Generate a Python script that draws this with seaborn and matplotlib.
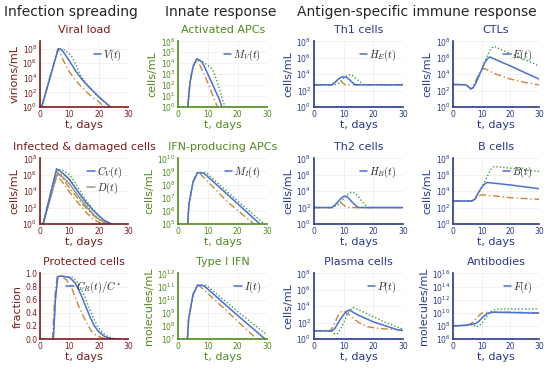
import numpy as np
import matplotlib
matplotlib.use('Agg')
import matplotlib.pyplot as plt
import seaborn as sns
from matplotlib.lines import Line2D
from matplotlib.ticker import FixedLocator, NullLocator, LogFormatterSciNotation

# ------------------------------------------------------------------
# values (log10 of the quantity unless noted)
# blue = solid, green = dotted, orange = dash-dot
# ------------------------------------------------------------------
# viral load V(t)
vl_t_b = [0.5, 6.2, 7, 8, 10, 12, 14, 16, 18, 20, 22, 24]
vl_b = [0, 8.0, 7.9, 7.5, 6.3, 5.0, 3.9, 3.0, 2.2, 1.4, 0.7, 0]
vl_t_g = [0.5, 6.2, 8, 10, 11, 12, 13, 14, 16, 18, 20, 22, 23.5]
vl_g = [0, 8.0, 7.9, 7.3, 6.8, 6.0, 5.0, 4.2, 3.1, 2.2, 1.3, 0.6, 0]
vl_t_o = [0.5, 6.0, 7, 8, 10, 12, 14, 16, 18, 20, 22]
vl_o = [0, 7.9, 7.3, 6.3, 4.8, 3.7, 2.8, 2.0, 1.3, 0.7, 0]

# infected cells C_V(t) and damaged cells D(t)
cv_t_b = [1, 5.6, 7, 8, 10, 12, 14, 16, 18, 20, 22, 24.5]
cv_b = [0, 6.7, 6.4, 6.1, 5.4, 4.4, 3.4, 2.5, 1.7, 1.0, 0.4, 0]
cv_t_g = [1, 5.6, 8, 10, 12, 14, 16, 18, 20, 22, 24]
cv_g = [0, 6.7, 6.5, 6.0, 5.0, 3.8, 2.7, 1.8, 1.0, 0.4, 0]
cv_t_o = [1, 5.5, 8, 10, 12, 14, 16, 18, 20, 22]
cv_o = [0, 6.5, 5.4, 4.4, 3.5, 2.6, 1.8, 1.1, 0.5, 0]
dd_t_b = [1, 5.8, 7, 8, 10, 12, 14, 16, 18, 20, 22, 24]
dd_b = [0, 6.1, 5.9, 5.6, 4.9, 3.9, 2.9, 2.0, 1.2, 0.6, 0.2, 0]
dd_t_g = [1, 5.8, 8, 10, 12, 14, 16, 18, 20, 22, 23.5]
dd_g = [0, 6.1, 6.0, 5.5, 4.5, 3.3, 2.2, 1.3, 0.6, 0.2, 0]
dd_t_o = [1, 5.7, 8, 10, 12, 14, 16, 18, 20, 21.5]
dd_o = [0, 6.0, 4.9, 3.9, 3.0, 2.1, 1.3, 0.6, 0.2, 0]

# protected cells C_R(t)/C* (linear fraction)
pr_t_b = [4.5, 5.2, 6, 7, 10, 12, 14, 15.5, 17, 18.5, 20, 22, 24, 27]
pr_b = [0, 0.6, 0.95, 0.96, 0.94, 0.85, 0.67, 0.5, 0.34, 0.2, 0.11, 0.04, 0.01, 0]
pr_t_g = [4.5, 5.2, 6, 7, 11, 13, 15, 16.5, 18, 19.5, 21, 23, 25, 28]
pr_g = [0, 0.6, 0.95, 0.96, 0.94, 0.85, 0.67, 0.5, 0.34, 0.2, 0.11, 0.04, 0.01, 0]
pr_t_o = [4.2, 4.9, 5.8, 7, 9, 11, 13, 14.5, 16, 17.5, 19, 21, 24]
pr_o = [0, 0.6, 0.95, 0.96, 0.9, 0.75, 0.52, 0.37, 0.23, 0.12, 0.06, 0.02, 0]

# activated APCs M_V(t)
mv_t_b = [3.2, 4, 5, 6.3, 7, 8, 9, 10, 11, 12, 13, 14, 14.7]
mv_b = [0, 2.3, 3.7, 4.4, 4.3, 4.1, 3.6, 3.0, 2.4, 1.8, 1.2, 0.6, 0]
mv_t_g = [3.2, 4, 5, 6.3, 8, 9, 10, 11, 12, 13, 14, 15, 15.8]
mv_g = [0, 2.3, 3.7, 4.4, 4.2, 4.0, 3.8, 3.6, 3.2, 2.4, 1.5, 0.6, 0]
mv_t_o = [3.2, 4, 5, 6.2, 7, 8, 9, 10, 11, 12, 13.2]
mv_o = [0, 2.3, 3.7, 4.4, 4.0, 3.4, 2.8, 2.2, 1.5, 0.8, 0]

# IFN-producing APCs M_I(t)
mi_t_b = [3.2, 3.6, 5, 6.5, 8, 9, 19, 27.5]
mi_b = [5, 6.5, 8.2, 8.9, 8.9, 8.8, 6.75, 5]
mi_t_g = [3.2, 3.6, 5, 6.5, 9, 10, 20, 29]
mi_g = [5, 6.5, 8.2, 8.9, 8.9, 8.8, 6.75, 5]
mi_t_o = [3.2, 3.6, 5, 6.3, 7.5, 17, 25.5]
mi_o = [5, 6.5, 8.2, 8.9, 8.8, 6.6, 5]

# type I IFN I(t)
if_t_b = [3.1, 3.5, 5, 6.5, 8, 9, 19, 29.3]
if_b = [7, 8.5, 10.4, 11.1, 11.1, 11.0, 9.0, 7]
if_t_g = [3.1, 3.5, 5, 6.5, 9, 10, 20, 30]
if_g = [7, 8.5, 10.4, 11.1, 11.1, 11.0, 9.1, 7.3]
if_t_o = [3.1, 3.5, 5, 6.3, 7.5, 17, 26.5]
if_o = [7, 8.5, 10.4, 11.1, 11.0, 9.0, 7]

# Th1 cells H_E(t)
he_t_b = [0, 6, 7, 8, 9, 10, 11, 12, 13, 14, 30]
he_b = [2.7, 2.7, 3.0, 3.35, 3.6, 3.7, 3.6, 3.3, 2.95, 2.7, 2.7]
he_t_g = [0, 6, 8, 9, 10, 11, 12, 13, 14, 15, 16, 17, 30]
he_g = [2.7, 2.7, 2.8, 3.1, 3.5, 3.8, 3.95, 3.8, 3.5, 3.2, 2.9, 2.7, 2.7]
he_t_o = [0, 6, 7, 8, 8.7, 9.5, 10.5, 30]
he_o = [2.7, 2.7, 3.0, 3.2, 3.25, 3.0, 2.7, 2.7]

# CTLs E(t)
e_t_b = [0, 4.5, 5.5, 6.2, 7, 8, 9, 10, 11, 12, 12.8, 14, 20, 25, 30]
e_b = [2.75, 2.7, 2.4, 2.2, 2.35, 3.0, 3.8, 4.6, 5.4, 5.9, 6.1, 5.9, 5.0, 4.2, 3.4]
e_t_g = [0, 4.5, 5.5, 6.2, 7, 8, 9, 10, 11, 12, 13, 14.2, 20, 25, 30]
e_g = [2.75, 2.7, 2.4, 2.2, 2.35, 3.0, 3.8, 4.6, 5.5, 6.3, 7.0, 7.4, 6.5, 5.8, 5.0]
e_t_o = [0, 4.5, 5.5, 6.2, 7, 8, 9, 10, 10.8, 12, 15, 20, 25, 30]
e_o = [2.75, 2.7, 2.4, 2.2, 2.5, 3.3, 4.0, 4.5, 4.7, 4.5, 4.0, 3.4, 3.0, 2.7]

# Th2 cells H_B(t)
hb_t_b = [0, 6, 7, 8, 9, 10, 10.5, 11, 12, 13, 14, 15, 30]
hb_b = [2.0, 2.0, 2.3, 2.7, 3.1, 3.35, 3.4, 3.35, 3.0, 2.6, 2.25, 2.0, 2.0]
hb_t_g = [0, 6, 8, 9, 10, 11, 12, 13, 14, 15, 16, 17, 18, 30]
hb_g = [2.0, 2.0, 2.3, 2.7, 3.1, 3.5, 3.8, 3.9, 3.7, 3.3, 2.8, 2.4, 2.0, 2.0]
hb_t_o = [0, 6, 7, 8, 8.8, 9.5, 10.5, 11.2, 30]
hb_o = [2.0, 2.0, 2.3, 2.55, 2.65, 2.45, 2.15, 2.0, 2.0]

# B cells B(t)
b_t_b = [0, 6.5, 7.5, 8.5, 9.5, 10.5, 11.5, 12, 20, 30]
b_b = [2.8, 2.8, 3.0, 3.6, 4.2, 4.7, 5.0, 5.05, 4.75, 4.3]
b_t_g = [0, 6.5, 7.5, 8.5, 9.5, 10.5, 11.5, 12.5, 13.5, 14.3, 20, 30]
b_g = [2.8, 2.8, 3.0, 3.6, 4.2, 4.8, 5.5, 6.2, 6.8, 7.0, 6.8, 6.4]
b_t_o = [0, 6.5, 7.5, 8.5, 9.5, 10, 15, 20, 30]
b_o = [2.8, 2.8, 3.0, 3.3, 3.5, 3.55, 3.4, 3.2, 3.0]

# plasma cells P(t)
p_t_b = [0, 6.0, 7, 8, 9, 10, 11, 11.8, 15, 20, 25, 28, 30]
p_b = [1.0, 1.0, 1.3, 1.9, 2.5, 3.0, 3.4, 3.55, 2.9, 2.1, 1.5, 1.15, 1.05]
p_t_g = [0, 6.0, 7, 8, 9, 10, 11, 12, 13.2, 16, 20, 25, 30]
p_g = [1.0, 1.0, 0.6, 0.7, 1.3, 2.0, 2.9, 3.5, 3.85, 3.4, 2.7, 1.9, 1.2]
p_t_o = [0, 5.5, 6.5, 7.5, 8.5, 9.3, 10.5, 12, 14, 16, 18, 22, 26, 30]
p_o = [1.0, 1.0, 1.6, 2.4, 3.1, 3.4, 3.3, 2.9, 2.3, 1.8, 1.5, 1.3, 1.2, 1.1]

# antibodies F(t)
f_t_b = [0, 4, 7, 8, 9, 10, 11, 12, 13, 15, 20, 30]
f_b = [8.0, 8.1, 8.3, 8.4, 8.7, 9.2, 9.6, 9.9, 10.05, 10.1, 10.05, 9.95]
f_t_g = [0, 4, 7, 8, 9, 10, 11, 12, 13, 14, 15, 20, 30]
f_g = [8.0, 8.1, 8.2, 7.9, 8.0, 8.4, 9.0, 9.6, 10.1, 10.4, 10.55, 10.6, 10.6]
f_t_o = [0, 4, 6, 7, 8, 9, 10, 11, 13, 20, 30]
f_o = [8.0, 8.1, 8.3, 8.6, 9.1, 9.6, 9.95, 10.05, 10.1, 10.1, 10.0]

# ------------------------------------------------------------------
RED = '#7a1c1c'
GREEN = '#4f8a1d'
NAVY = '#29398a'
C_BLUE = '#4a6fd8'
C_GREEN = '#3a9e3a'
C_ORANGE = '#c48a34'
C_D = '#9a9a8a'

sns.set_style('whitegrid')
plt.rcParams['font.family'] = ['DejaVu Sans']
plt.rcParams['mathtext.fontset'] = 'cm'

fig = plt.figure(figsize=(5.5, 3.69), dpi=100)

col_left = [0.073, 0.324, 0.571, 0.824]
col_w = [0.160, 0.162, 0.162, 0.156]
row_bot = [0.710, 0.393, 0.081]
row_h = 0.178


def lines(ax, tb, yb, tg, yg, to, yo, log=True, col=C_BLUE):
    conv = (lambda v: 10.0 ** np.array(v)) if log else np.array
    sns.lineplot(x=tg, y=conv(yg), ax=ax, color=C_GREEN, lw=1.0, linestyle=(0, (1, 1.5)))
    sns.lineplot(x=to, y=conv(yo), ax=ax, color=C_ORANGE, lw=1.0, linestyle=(0, (5, 2, 1, 2)))
    sns.lineplot(x=tb, y=conv(yb), ax=ax, color=col, lw=1.1)


def panel(r, c, color, title, ylabel, ylo, yhi, yticks, labels, log=True):
    ax = fig.add_axes([col_left[c], row_bot[r], col_w[c], row_h])
    ax.set_xlim(0, 30)
    if log:
        ax.set_yscale('log')
        ax.set_ylim(10.0 ** ylo, 10.0 ** yhi)
        ax.yaxis.set_major_locator(FixedLocator([10.0 ** k for k in yticks]))
        ax.yaxis.set_major_formatter(LogFormatterSciNotation())
    else:
        ax.set_ylim(ylo, yhi)
        ax.set_yticks(yticks)
    ax.yaxis.set_minor_locator(NullLocator())
    ax.set_xticks([0, 10, 20, 30])
    ax.grid(True, color='#ececec', lw=0.5)
    for s in ['top', 'right']:
        ax.spines[s].set_visible(False)
    for s in ['left', 'bottom']:
        ax.spines[s].set_visible(True)
        ax.spines[s].set_color(color)
        ax.spines[s].set_linewidth(1.2)
    ax.tick_params(axis='both', which='major', labelsize=5.5, colors=color,
                   direction='in', length=3, width=0.8, pad=2)
    ax.set_title(title, color=color, fontsize=8, pad=6)
    ax.set_xlabel('t, days', fontsize=8, color=color, labelpad=1)
    ax.set_ylabel(ylabel, fontsize=8, color=color, labelpad=2)
    handles = [Line2D([], [], color=lc, lw=1.1) for lc, _ in labels]
    ax.legend(handles, [lab for _, lab in labels], loc='upper right', frameon=False,
              fontsize=7.5, handlelength=0.7, handletextpad=0.2, borderaxespad=0.2,
              labelspacing=0.1, labelcolor='#222222')
    return ax


# infection spreading
ax = panel(0, 0, RED, 'Viral load', 'virions/mL', 0, 9, [0, 2, 4, 6, 8], [(C_BLUE, r'$V(t)$')])
lines(ax, vl_t_b, vl_b, vl_t_g, vl_g, vl_t_o, vl_o)
ax = panel(1, 0, RED, 'Infected & damaged cells', 'cells/mL', 0, 8, [0, 2, 4, 6, 8],
           [(C_BLUE, r'$C_V(t)$'), (C_D, r'$D(t)$')])
lines(ax, dd_t_b, dd_b, dd_t_g, dd_g, dd_t_o, dd_o, col=C_D)
lines(ax, cv_t_b, cv_b, cv_t_g, cv_g, cv_t_o, cv_o)
ax = panel(2, 0, RED, 'Protected cells', 'fraction', 0, 1.0, [0.0, 0.2, 0.4, 0.6, 0.8, 1.0],
           [(C_BLUE, r'$C_R(t)/C^*$')], log=False)
lines(ax, pr_t_b, pr_b, pr_t_g, pr_g, pr_t_o, pr_o, log=False)

# innate response
ax = panel(0, 1, GREEN, 'Activated APCs', 'cells/mL', 0, 6, [0, 1, 2, 3, 4, 5, 6], [(C_BLUE, r'$M_V(t)$')])
lines(ax, mv_t_b, mv_b, mv_t_g, mv_g, mv_t_o, mv_o)
ax = panel(1, 1, GREEN, 'IFN-producing APCs', 'cells/mL', 5, 10, [5, 6, 7, 8, 9, 10], [(C_BLUE, r'$M_I(t)$')])
lines(ax, mi_t_b, mi_b, mi_t_g, mi_g, mi_t_o, mi_o)
ax = panel(2, 1, GREEN, 'Type I IFN', 'molecules/mL', 7, 12, [7, 8, 9, 10, 11, 12], [(C_BLUE, r'$I(t)$')])
lines(ax, if_t_b, if_b, if_t_g, if_g, if_t_o, if_o)

# antigen-specific response
ax = panel(0, 2, NAVY, 'Th1 cells', 'cells/mL', 0, 8, [0, 2, 4, 6, 8], [(C_BLUE, r'$H_E(t)$')])
lines(ax, he_t_b, he_b, he_t_g, he_g, he_t_o, he_o)
ax = panel(1, 2, NAVY, 'Th2 cells', 'cells/mL', 0, 8, [0, 2, 4, 6, 8], [(C_BLUE, r'$H_B(t)$')])
lines(ax, hb_t_b, hb_b, hb_t_g, hb_g, hb_t_o, hb_o)
ax = panel(2, 2, NAVY, 'Plasma cells', 'cells/mL', 0, 8, [0, 2, 4, 6, 8], [(C_BLUE, r'$P(t)$')])
lines(ax, p_t_b, p_b, p_t_g, p_g, p_t_o, p_o)
ax = panel(0, 3, NAVY, 'CTLs', 'cells/mL', 0, 8, [0, 2, 4, 6, 8], [(C_BLUE, r'$E(t)$')])
lines(ax, e_t_b, e_b, e_t_g, e_g, e_t_o, e_o)
ax = panel(1, 3, NAVY, 'B cells', 'cells/mL', 0, 8, [0, 2, 4, 6, 8], [(C_BLUE, r'$B(t)$')])
lines(ax, b_t_b, b_b, b_t_g, b_g, b_t_o, b_o)
ax = panel(2, 3, NAVY, 'Antibodies', 'molecules/mL', 6, 16, [6, 8, 10, 12, 14, 16], [(C_BLUE, r'$F(t)$')])
lines(ax, f_t_b, f_b, f_t_g, f_g, f_t_o, f_o)

fig.text(0.129, 0.967, 'Infection spreading', ha='center', va='center', fontsize=10)
fig.text(0.402, 0.967, 'Innate response', ha='center', va='center', fontsize=10)
fig.text(0.758, 0.967, 'Antigen-specific immune response', ha='center', va='center', fontsize=10)

fig.savefig('out.png', dpi=100)
